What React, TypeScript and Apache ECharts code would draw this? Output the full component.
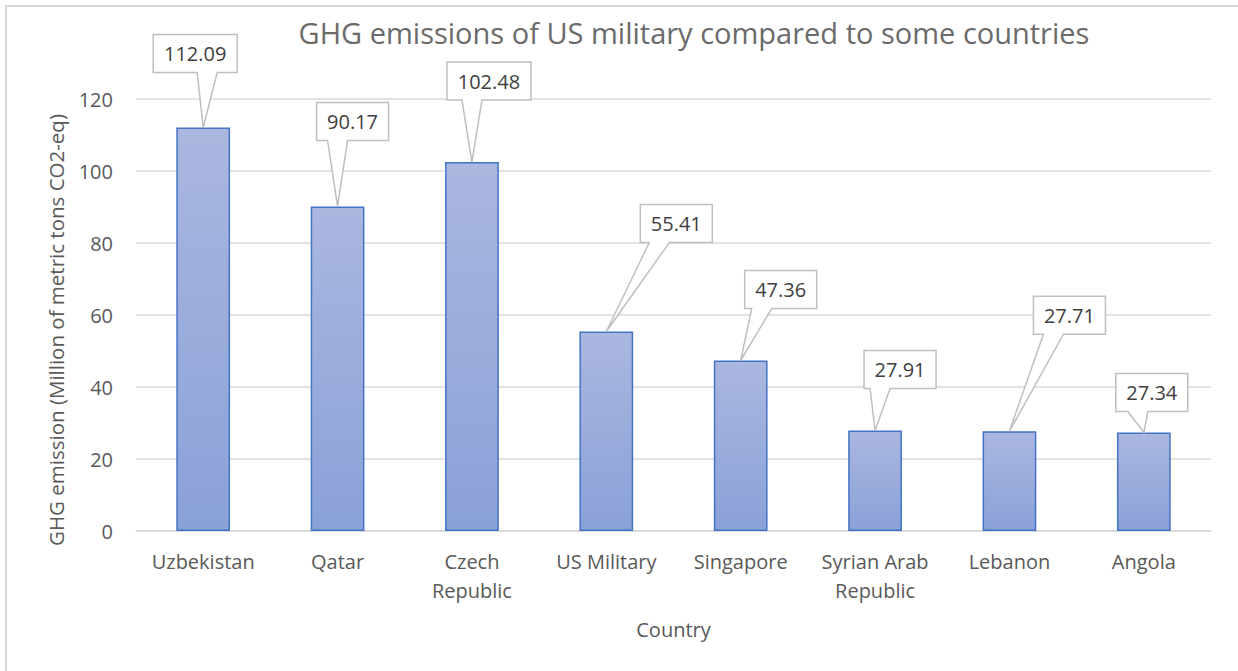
import React, { useEffect, useRef } from "react";
import * as echarts from "echarts";

const categories = [
  "Uzbekistan",
  "Qatar",
  "Czech Republic",
  "US Military",
  "Singapore",
  "Syrian Arab Republic",
  "Lebanon",
  "Angola",
];
const emissions = [112.09, 90.17, 102.48, 55.41, 47.36, 27.91, 27.71, 27.34];
const yMin = 0;
const yMax = 120;
const yInterval = 20;

// Callout layout: box centre offset from the bar top (px) and wedge position in the box
const calloutDx = [-8, 15, 17, 70, 40, 25, 60, 8];
const calloutDy = [-74, -85, -81, -108, -71, -61, -116, -40];
const wedgeDx = [12, -15, -17, -17, -19, -20, -16, -14];

const FONT = "Open Sans";
const TEXT = "#595959";

export default function App() {
  const ref = useRef<HTMLDivElement>(null);

  useEffect(() => {
    document.body.style.margin = "0";
    const chart = echarts.init(ref.current!, null, { renderer: "svg" });
    chart.setOption({
      animation: false,
      backgroundColor: "#ffffff",
      title: {
        text: "GHG emissions of US military compared to some countries",
        left: 689,
        textAlign: "center",
        top: 13,
        textStyle: { fontFamily: FONT, fontSize: 29, fontWeight: "normal", color: "#6b6b6b" },
      },
      graphic: [
        {
          type: "rect",
          shape: { x: 6, y: 6, width: 1300, height: 720 },
          style: { fill: "none", stroke: "#d9d9d9", lineWidth: 2 },
          silent: true,
        },
      ],
      grid: { left: 136, right: 27, top: 99, bottom: 140 },
      xAxis: {
        type: "category",
        data: categories,
        name: "Country",
        nameLocation: "middle",
        nameGap: 88,
        nameTextStyle: { fontFamily: FONT, fontSize: 20, color: TEXT },
        axisLine: { lineStyle: { color: "#d9d9d9", width: 1.5 } },
        axisTick: { show: false },
        axisLabel: {
          fontFamily: FONT,
          fontSize: 20,
          color: TEXT,
          margin: 16,
          lineHeight: 29,
          interval: 0,
          formatter: (v: string) => v.replace(" Republic", "\nRepublic"),
        },
      },
      yAxis: {
        type: "value",
        min: yMin,
        max: yMax,
        interval: yInterval,
        name: "GHG emission (Million of metric tons CO2-eq)",
        nameLocation: "middle",
        nameGap: 70,
        nameTextStyle: { fontFamily: FONT, fontSize: 20.5, color: TEXT, padding: [0, 30, 0, 0] },
        axisLine: { show: false },
        axisTick: { show: false },
        axisLabel: { fontFamily: FONT, fontSize: 20, color: TEXT, margin: 23 },
        splitLine: { lineStyle: { color: "#d9d9d9", width: 1.5 } },
      },
      series: [
        {
          type: "bar",
          data: emissions,
          barWidth: "40%",
          itemStyle: {
            color: {
              type: "linear",
              x: 0,
              y: 0,
              x2: 0,
              y2: 1,
              colorStops: [
                { offset: 0, color: "#aab7df" },
                { offset: 1, color: "#8aa1d8" },
              ],
            },
            borderColor: "#4472c4",
            borderWidth: 1.5,
          },
        },
        {
          type: "custom",
          clip: false,
          z: 5,
          data: emissions.map((v, i) => [i, v]),
          renderItem: (params: any, api: any) => {
            const i = params.dataIndex;
            const tip = api.coord([api.value(0), api.value(1)]);
            const label = emissions[i].toFixed(2);
            const w = 12 * label.length + 12;
            const h = 38;
            const cx = tip[0] + calloutDx[i];
            const cy = tip[1] + calloutDy[i];
            const L = cx - w / 2;
            const R = cx + w / 2;
            const T = cy - h / 2;
            const B = cy + h / 2;
            const wc = cx + wedgeDx[i];
            return {
              type: "group",
              children: [
                {
                  type: "polygon",
                  shape: {
                    points: [
                      [L, T],
                      [R, T],
                      [R, B],
                      [wc + 10, B],
                      [tip[0], tip[1]],
                      [wc - 10, B],
                      [L, B],
                    ],
                  },
                  style: { fill: "#ffffff", stroke: "#bfbfbf", lineWidth: 1.5 },
                },
                {
                  type: "text",
                  style: {
                    text: label,
                    x: cx,
                    y: cy,
                    align: "center",
                    verticalAlign: "middle",
                    fontFamily: FONT,
                    fontSize: 20,
                    fill: "#404040",
                  },
                },
              ],
            };
          },
        },
      ],
    });
    return () => chart.dispose();
  }, []);

  return <div ref={ref} style={{ width: 1238, height: 671 }} />;
}
